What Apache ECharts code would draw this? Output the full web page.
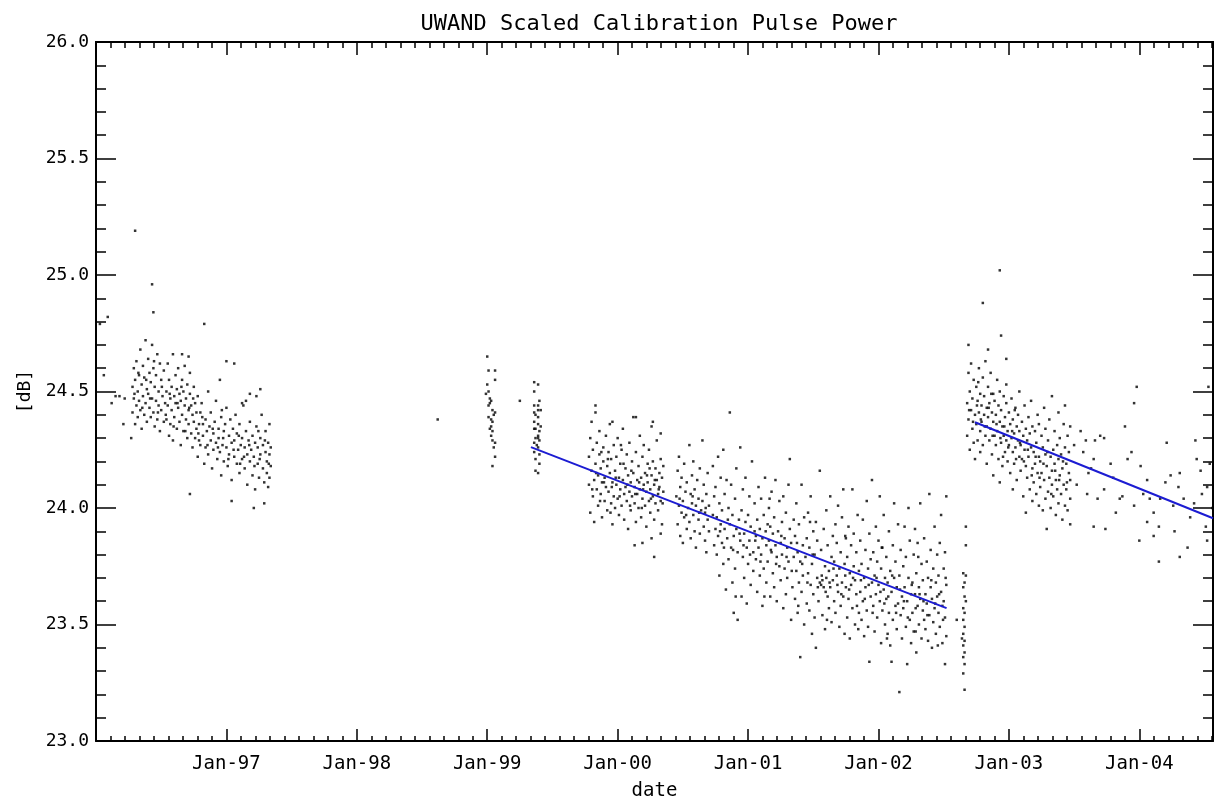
<!DOCTYPE html>
<html>
<head>
<meta charset="utf-8">
<title>UWAND Scaled Calibration Pulse Power</title>
<script src="https://cdn.jsdelivr.net/npm/echarts@6/dist/echarts.min.js"></script>
<style>
  html, body { margin: 0; padding: 0; background: #fff; }
  #chart { width: 1220px; height: 803px; }
</style>
</head>
<body>
<div id="chart"></div>
<script>
// x = year - 1900 (decimal), y = dB

// tick labels on the date axis
const yearTicks = [97, 98, 99, 100, 101, 102, 103, 104]
const yearLabels = ['Jan-97', 'Jan-98', 'Jan-99', 'Jan-00', 'Jan-01', 'Jan-02', 'Jan-03', 'Jan-04']

// 1996 - early 1997
const pts1996 = [
  [96.03,24.79],[96.09,24.82],[96.06,24.57],[96.12,24.45],[96.15,24.48],[96.18,24.48],[96.22,24.47],[96.21,24.36],[96.27,24.30],
  [96.30,25.19],[96.43,24.96],[96.44,24.84],[96.83,24.79],[96.72,24.06],[97.04,24.03],[97.21,24.00],[97.29,24.02],
  [97.00,24.63],[97.06,24.62],[96.66,24.66],[96.71,24.65],[96.95,24.55],[97.18,24.49],[97.23,24.48],[97.26,24.51],[97.12,24.45],[97.15,24.46],
  [96.28,24.52],[96.28,24.41],[96.29,24.60],[96.29,24.47],[96.30,24.36],[96.30,24.55],[96.31,24.44],[96.31,24.63],[96.32,24.50],[96.32,24.39],
  [96.33,24.57],[96.33,24.46],[96.34,24.68],[96.34,24.42],[96.35,24.53],[96.35,24.34],[96.36,24.61],[96.36,24.48],[96.37,24.40],[96.37,24.56],
  [96.38,24.72],[96.38,24.45],[96.39,24.51],[96.39,24.37],[96.40,24.64],[96.40,24.49],[96.41,24.43],[96.41,24.58],[96.42,24.54],[96.42,24.39],
  [96.43,24.47],[96.43,24.70],[96.44,24.60],[96.44,24.41],[96.45,24.52],[96.45,24.35],[96.46,24.57],[96.46,24.46],[96.47,24.66],[96.47,24.38],
  [96.48,24.50],[96.48,24.44],[96.49,24.62],[96.49,24.33],[96.50,24.55],[96.50,24.42],[96.51,24.48],[96.52,24.59],[96.52,24.37],[96.53,24.45],
  [96.54,24.50],[96.54,24.38],[96.55,24.62],[96.55,24.44],[96.56,24.31],[96.56,24.55],[96.57,24.47],[96.57,24.36],[96.58,24.52],[96.58,24.42],
  [96.59,24.66],[96.59,24.29],[96.60,24.48],[96.60,24.39],[96.61,24.57],[96.61,24.45],[96.62,24.34],[96.62,24.51],[96.63,24.43],[96.63,24.60],
  [96.64,24.37],[96.64,24.49],[96.65,24.27],[96.65,24.46],[96.66,24.55],[96.66,24.40],[96.67,24.33],[96.67,24.50],[96.68,24.44],[96.68,24.61],
  [96.69,24.38],[96.69,24.47],[96.70,24.30],[96.70,24.53],[96.71,24.42],[96.71,24.36],[96.72,24.49],[96.72,24.58],[96.73,24.32],[96.73,24.44],
  [96.74,24.40],[96.74,24.26],[96.75,24.52],[96.75,24.37],[96.76,24.45],[96.77,24.34],[96.78,24.48],[96.79,24.29],[96.80,24.41],[96.82,24.36],
  [96.76,24.30],[96.77,24.41],[96.78,24.22],[96.79,24.36],[96.80,24.27],[96.81,24.45],[96.82,24.31],[96.83,24.19],[96.84,24.38],[96.84,24.26],
  [96.85,24.33],[96.86,24.50],[96.86,24.23],[96.87,24.35],[96.88,24.29],[96.88,24.41],[96.89,24.17],[96.90,24.32],[96.90,24.25],[96.91,24.37],
  [96.92,24.28],[96.92,24.46],[96.93,24.21],[96.94,24.34],[96.94,24.30],[96.95,24.24],[96.96,24.39],[96.96,24.14],[96.97,24.27],[96.98,24.33],
  [96.98,24.20],[96.99,24.36],[97.00,24.26],[97.00,24.43],[97.01,24.18],[97.02,24.31],[97.02,24.23],[97.03,24.38],[97.04,24.28],[97.04,24.12],
  [97.05,24.34],[97.06,24.22],[97.06,24.29],[97.07,24.40],[97.08,24.19],[97.08,24.32],[97.09,24.25],[97.10,24.15],[97.10,24.36],[97.11,24.27],
  [97.12,24.21],[97.12,24.30],[97.13,24.44],[97.14,24.17],[97.14,24.26],[97.15,24.33],[97.16,24.23],[97.16,24.10],[97.17,24.29],[97.18,24.20],
  [97.18,24.37],[97.19,24.25],[97.20,24.14],[97.20,24.31],[97.21,24.22],[97.22,24.28],[97.22,24.08],[97.23,24.35],[97.24,24.19],[97.24,24.26],
  [97.25,24.13],[97.26,24.30],[97.26,24.23],[97.27,24.40],[97.28,24.17],[97.28,24.27],[97.29,24.11],[97.30,24.24],[97.30,24.33],[97.31,24.20],
  [97.31,24.15],[97.32,24.28],[97.32,24.09],[97.33,24.23],[97.33,24.36],[97.34,24.18],[97.34,24.26],[97.33,24.13],
  [96.295,24.49],[96.325,24.58],[96.355,24.43],[96.385,24.55],[96.415,24.47],[96.445,24.63],[96.475,24.41],[96.505,24.52],[96.535,24.40],[96.565,24.49],
  [96.595,24.35],[96.625,24.45],[96.655,24.52],[96.685,24.33],[96.715,24.43],[96.745,24.47],[96.785,24.32],[96.815,24.39],[96.855,24.27],[96.895,24.34],
  [96.935,24.26],[96.975,24.30],[97.015,24.21],[97.055,24.25],[97.095,24.31],[97.135,24.22],[97.175,24.27],[97.215,24.18],[97.255,24.21],[97.295,24.29],
  [97.325,24.19],[97.245,24.33],[97.105,24.19],[96.965,24.42]
]

// 1998 - mid 1999
const pts1999 = [
  [98.62,24.38],
  [99.00,24.65],[99.01,24.59],[99.06,24.59],[99.06,24.55],[99.00,24.53],[99.01,24.50],[99.03,24.46],[99.02,24.45],[99.01,24.44],[99.04,24.42],
  [99.06,24.41],[99.01,24.39],[99.04,24.37],[99.03,24.35],[99.02,24.34],[99.04,24.33],[99.03,24.31],[99.04,24.29],[99.06,24.28],[99.05,24.26],
  [99.06,24.22],[99.04,24.18],[99.02,24.47],[99.05,24.40],[99.03,24.38],[98.99,24.49],
  [99.25,24.46],
  [99.36,24.54],[99.39,24.53],[99.36,24.50],[99.40,24.46],[99.39,24.44],[99.36,24.44],[99.41,24.42],[99.37,24.40],[99.39,24.39],[99.36,24.37],
  [99.39,24.36],[99.37,24.34],[99.36,24.34],[99.40,24.33],[99.39,24.31],[99.37,24.30],[99.40,24.29],[99.36,24.28],[99.39,24.26],[99.36,24.24],
  [99.40,24.23],[99.37,24.21],[99.40,24.19],[99.37,24.16],[99.39,24.15],[99.39,24.42],[99.36,24.41],[99.39,24.30],[99.38,24.27],[99.41,24.35]
]

// late 1999 - mid 2000
const pts2000 = [
  [99.78,24.22],[99.78,24.10],[99.79,24.30],[99.79,23.98],[99.80,24.16],[99.80,24.37],[99.81,24.05],[99.81,24.25],[99.82,24.12],[99.82,23.94],
  [99.83,24.19],[99.83,24.41],[99.84,24.08],[99.84,24.28],[99.85,24.14],[99.85,24.01],[99.86,24.23],[99.86,24.33],[99.87,24.06],[99.87,24.17],
  [99.88,24.11],[99.88,23.96],[99.89,24.26],[99.89,24.20],[99.90,24.03],[99.90,24.13],[99.91,24.31],[99.91,24.09],[99.92,24.18],[99.92,23.99],
  [99.93,24.24],[99.93,24.07],[99.94,24.15],[99.94,24.36],[99.95,24.02],[99.95,24.21],[99.96,24.11],[99.96,23.93],[99.97,24.27],[99.97,24.05],
  [99.98,24.16],[99.98,24.00],[99.99,24.22],[99.99,24.10],[100.00,24.30],[100.00,24.04],[100.01,24.13],[100.01,23.97],[100.02,24.19],[100.02,24.08],
  [100.03,24.25],[100.03,24.01],[100.04,24.12],[100.04,24.34],[100.05,24.06],[100.05,23.95],[100.06,24.17],[100.06,24.09],[100.07,24.23],[100.07,24.03],
  [100.08,24.14],[100.08,23.91],[100.09,24.07],[100.09,24.28],[100.10,24.11],[100.10,23.99],[100.11,24.20],[100.11,24.05],[100.12,24.15],[100.12,24.39],
  [100.13,24.02],[100.13,24.09],[100.14,24.24],[100.14,23.94],[100.15,24.12],[100.15,24.06],[100.16,24.18],[100.16,24.00],[100.17,24.31],[100.17,24.08],
  [100.18,24.13],[100.18,23.96],[100.19,24.22],[100.19,24.04],[100.20,24.10],[100.20,24.27],[100.21,24.01],[100.21,24.15],[100.22,24.07],[100.22,23.92],
  [100.23,24.19],[100.23,24.11],[100.24,24.03],[100.24,24.25],[100.25,24.08],[100.25,23.98],[100.26,24.14],[100.26,24.35],[100.27,24.05],[100.27,24.20],
  [100.28,24.10],[100.28,23.95],[100.29,24.17],[100.29,24.02],[100.30,24.12],[100.30,24.29],[100.31,24.06],[100.31,23.99],[100.32,24.15],[100.32,24.09],
  [100.33,24.21],[100.33,24.03],[100.34,24.13],[100.34,23.93],[100.35,24.18],[100.35,24.07],
  [99.83,24.44],[99.96,24.37],[100.14,24.39],[100.27,24.37],[100.33,24.32],
  [100.13,23.84],[100.19,23.85],[100.26,23.87],[100.28,23.79],[100.33,23.89],
  [99.805,24.08],[99.835,24.15],[99.865,24.03],[99.895,24.11],[99.925,24.21],[99.955,24.09],[99.985,24.13],[100.015,24.05],[100.045,24.19],[100.075,24.10],
  [100.105,24.16],[100.135,24.06],[100.165,24.11],[100.195,24.08],[100.225,24.14],[100.255,24.04],[100.285,24.12],[100.315,24.08],[100.345,24.02],[99.875,24.24],
  [100.025,24.27],[100.185,24.00],[99.945,23.98],[100.245,24.17],[100.095,24.01]
]

// mid 2000 - mid 2002
const pts2001 = [
  [100.45,24.05],[100.46,23.93],[100.46,24.16],[100.47,24.01],[100.47,24.22],[100.48,23.88],[100.48,24.09],[100.49,23.98],[100.49,24.13],[100.50,24.03],
  [100.50,23.85],[100.51,24.19],[100.51,23.96],[100.52,24.07],[100.53,23.91],[100.53,24.11],[100.54,24.00],[100.55,24.27],
  [100.55,23.94],[100.56,24.06],[100.56,23.87],[100.57,24.14],[100.57,24.02],[100.58,23.97],[100.58,24.20],[100.59,23.90],[100.59,24.08],[100.60,24.01],
  [100.60,23.83],[100.61,24.12],[100.62,23.95],[100.62,24.04],[100.63,23.89],[100.63,24.17],[100.64,23.99],[100.65,24.29],
  [100.65,24.03],[100.66,23.92],[100.66,24.10],[100.67,23.86],[100.67,23.98],[100.68,24.06],[100.68,23.81],[100.69,23.95],[100.69,24.15],[100.70,23.90],
  [100.70,24.01],[100.73,23.97],[100.73,24.18],[100.74,23.84],[100.74,24.05],[100.75,23.91],
  [100.75,24.09],[100.76,23.80],[100.76,23.96],[100.77,24.22],[100.77,23.88],[100.78,24.02],[100.78,23.71],[100.79,23.93],[100.79,24.13],[100.80,23.85],
  [100.80,23.99],[100.81,24.25],[100.81,23.76],[100.82,23.91],[100.82,24.06],[100.83,23.65],[100.84,23.87],[100.85,24.00],
  [100.85,23.78],[100.86,24.41],[100.86,23.93],[100.87,23.83],[100.87,24.10],[100.88,23.68],[100.88,23.97],[100.89,23.55],[100.89,23.88],[100.90,24.04],
  [100.90,23.74],[100.91,23.91],[100.91,24.17],[100.92,23.81],[100.92,23.52],[100.93,23.95],[100.94,24.26],[100.94,23.86],[100.95,23.62],
  [100.95,23.99],[100.96,23.79],[100.96,24.08],[100.97,23.89],[100.97,23.70],[100.98,23.94],[100.98,24.13],[100.99,23.83],[100.99,23.59],[101.00,23.97],
  [101.00,23.76],[101.01,24.05],[101.01,23.86],[101.02,23.67],[101.02,23.92],[101.03,24.20],[101.04,23.81],[101.04,23.73],[101.05,23.90],
  [101.05,24.02],[101.06,23.78],[101.06,23.88],[101.07,23.64],[101.07,23.95],[101.08,24.09],[101.08,23.83],[101.09,23.71],[101.09,23.91],[101.10,23.80],
  [101.10,24.04],[101.11,23.58],[101.11,23.87],[101.12,23.97],[101.12,23.74],[101.13,24.13],[101.14,23.84],[101.14,23.68],[101.15,23.93],
  [101.15,23.77],[101.16,24.00],[101.16,23.86],[101.17,23.62],[101.17,23.92],[101.18,23.81],[101.18,24.07],[101.19,23.72],[101.19,23.89],[101.20,23.96],
  [101.20,23.66],[101.21,23.84],[101.21,24.12],[101.22,23.79],[101.22,23.60],[101.23,23.90],[101.24,23.75],[101.24,24.03],[101.25,23.85],
  [101.25,23.69],[101.26,23.94],[101.26,23.80],[101.27,23.57],[101.27,24.05],[101.28,23.74],[101.28,23.87],[101.29,23.63],[101.29,23.98],[101.30,23.83],
  [101.30,23.70],[101.31,24.10],[101.31,23.77],[101.32,23.91],[101.32,24.21],[101.33,23.52],[101.33,23.85],[101.34,23.66],[101.35,23.95],[101.35,23.79],
  [101.36,23.61],[101.36,23.88],[101.37,23.73],[101.37,24.02],[101.38,23.81],[101.38,23.55],[101.39,23.93],[101.39,23.68],[101.40,23.36],[101.40,23.77],
  [101.41,24.10],[101.41,23.64],[101.42,23.84],[101.42,23.71],[101.43,23.50],[101.43,23.96],[101.44,23.79],[101.45,23.59],[101.45,23.87],
  [101.46,23.72],[101.46,23.98],[101.47,23.56],[101.47,23.83],[101.48,23.67],[101.48,24.05],[101.49,23.76],[101.49,23.46],[101.50,23.90],[101.50,23.63],
  [101.51,23.80],[101.51,23.53],[101.52,23.40],[101.52,23.94],[101.53,23.70],[101.53,23.86],[101.54,23.60],[101.55,24.16],[101.55,23.68],
  [101.56,23.67],[101.56,23.82],[101.57,23.69],[101.57,23.54],[101.58,23.91],[101.58,23.66],[101.59,23.75],[101.59,23.48],[101.60,23.70],[101.60,23.99],
  [101.61,23.62],[101.61,23.84],[101.62,23.57],[101.62,23.73],[101.63,24.05],[101.63,23.66],[101.64,23.79],[101.64,23.51],[101.65,23.88],[101.65,23.69],
  [101.66,23.60],[101.66,23.77],[101.67,23.93],[101.67,23.55],[101.68,23.71],[101.68,23.85],[101.69,23.64],[101.69,24.01],[101.70,23.49],[101.70,23.74],
  [101.71,23.81],[101.71,23.58],[101.72,23.68],[101.72,23.96],[101.73,24.08],[101.73,23.62],[101.74,23.76],[101.74,23.46],[101.75,23.87],
  [101.75,23.66],[101.76,23.53],[101.76,23.79],[101.77,23.92],[101.77,23.61],[101.78,23.72],[101.78,23.44],[101.79,23.84],[101.79,23.67],[101.80,24.08],
  [101.80,23.57],[101.81,23.75],[101.81,23.89],[101.82,23.50],[101.82,23.69],[101.83,23.81],[101.83,23.63],[101.84,23.97],[101.85,23.55],[101.85,23.73],
  [101.86,23.64],[101.86,23.86],[101.87,23.52],[101.87,23.76],[101.88,23.95],[101.88,23.60],[101.89,23.70],[101.89,23.45],[101.90,23.82],[101.90,23.66],
  [101.91,24.03],[101.91,23.56],[101.92,23.74],[101.92,23.49],[101.93,23.34],[101.93,23.89],[101.94,23.62],[101.94,23.78],[101.95,24.12],[101.95,23.68],
  [101.96,23.58],[101.96,23.81],[101.97,23.71],[101.97,23.47],[101.98,23.92],[101.98,23.63],[101.99,23.77],[101.99,23.53],[102.00,23.67],[102.00,23.86],
  [102.01,24.05],[102.01,23.60],[102.02,23.42],[102.02,23.74],[102.03,23.56],[102.03,23.83],[102.04,23.65],[102.04,23.97],[102.05,23.50],[102.05,23.70],
  [102.06,23.61],[102.06,23.79],[102.07,23.46],[102.07,23.68],[102.08,23.90],[102.08,23.55],[102.09,23.73],[102.09,23.41],[102.10,23.34],[102.10,23.64],
  [102.11,23.84],[102.11,23.52],[102.12,23.70],[102.12,24.02],[102.13,23.58],[102.13,23.77],[102.14,23.48],[102.14,23.66],[102.15,23.93],[102.15,23.59],
  [102.16,23.21],[102.16,23.71],[102.17,23.54],[102.17,23.82],[102.18,23.62],[102.18,23.44],[102.19,23.75],[102.19,23.57],[102.20,23.92],[102.20,23.66],
  [102.21,23.49],[102.21,23.79],[102.22,23.33],[102.22,23.60],[102.23,23.70],[102.23,24.00],[102.24,23.52],[102.24,23.86],[102.25,23.63],[102.25,23.42],
  [102.26,23.68],[102.26,23.55],[102.27,23.80],[102.27,23.47],[102.28,23.63],[102.28,23.91],[102.29,23.38],[102.29,23.72],[102.30,23.58],[102.30,23.85],
  [102.31,23.50],[102.31,23.66],[102.32,24.02],[102.32,23.61],[102.33,23.44],[102.33,23.76],[102.34,23.56],[102.34,23.69],[102.35,23.87],[102.35,23.52],
  [102.36,23.63],[102.36,23.48],[102.37,23.77],[102.37,23.59],[102.38,23.43],[102.38,23.70],[102.39,24.06],[102.39,23.54],[102.40,23.66],[102.40,23.82],
  [102.41,23.40],[102.41,23.61],[102.42,23.74],[102.42,23.51],[102.43,23.92],[102.43,23.57],[102.44,23.68],[102.44,23.46],[102.45,23.80],[102.45,23.62],
  [102.46,23.55],[102.46,23.71],[102.47,23.85],[102.47,23.49],[102.48,23.64],[102.48,23.97],[102.49,23.58],[102.49,23.42],[102.50,23.74],[102.50,23.60],
  [102.51,23.33],[102.51,23.81],[102.51,23.53],[102.52,23.67],[102.52,24.05],[102.52,23.45],
  [100.475,24.04],[100.525,23.97],[100.575,24.05],[100.625,23.98],[100.675,24.00],[100.785,23.90],[100.815,23.83],[100.845,23.95],[100.885,23.82],[100.935,23.89],
  [100.965,23.84],[101.015,23.80],[101.055,23.86],[101.095,23.77],[101.135,23.90],[101.175,23.82],[101.215,23.76],[101.255,23.88],[101.295,23.79],[101.335,23.73],
  [101.375,23.85],[101.415,23.76],[101.455,23.68],[101.495,23.80],[101.535,23.66],[101.565,23.71],[101.595,23.64],[101.625,23.68],[101.655,23.74],[101.685,23.67],
  [101.715,23.63],[101.745,23.71],[101.775,23.65],[101.805,23.70],[101.835,23.58],[101.865,23.69],[101.895,23.61],[101.925,23.67],[101.955,23.55],[101.985,23.70],
  [102.015,23.64],[102.045,23.59],[102.075,23.62],[102.105,23.71],[102.135,23.55],[102.165,23.65],[102.195,23.60],[102.225,23.53],[102.255,23.67],[102.285,23.57],
  [102.315,23.63],[102.345,23.60],[102.375,23.54],[102.405,23.69],[102.435,23.59],[102.465,23.63],[102.495,23.52],[102.515,23.70],
  [100.905,23.62],[101.125,23.62],[101.385,23.58],[101.605,23.52],[101.845,23.48],[102.065,23.44],[102.285,23.47],[102.455,23.41],
  [100.835,24.12],[101.165,24.04],[101.475,23.94],[101.745,23.88],[102.025,23.83],[102.305,23.79]
]

// short column just before the second segment
const ptsGap = [
  [102.65,23.72],[102.66,23.68],[102.65,23.66],[102.66,23.62],[102.65,23.57],[102.66,23.55],[102.65,23.52],[102.66,23.49],[102.65,23.46],[102.66,23.43],
  [102.65,23.41],[102.66,23.38],[102.65,23.36],[102.66,23.33],[102.65,23.29],[102.66,23.22],[102.67,23.71],[102.67,23.60],[102.67,23.92],[102.64,23.44],
  [102.67,23.84],[102.60,23.52]
]

// late 2002 - mid 2003
const pts2003 = [
  [102.93,25.02],[102.80,24.88],[102.94,24.74],[102.84,24.68],[102.69,24.70],[102.98,24.64],
  [102.68,24.45],[102.68,24.31],[102.69,24.58],[102.69,24.38],[102.70,24.25],[102.70,24.50],[102.71,24.42],[102.71,24.62],[102.72,24.34],[102.72,24.47],
  [102.73,24.28],[102.73,24.55],[102.74,24.40],[102.74,24.21],[102.75,24.52],[102.75,24.36],[102.76,24.46],[102.76,24.29],[102.77,24.60],[102.77,24.41],
  [102.78,24.33],[102.78,24.49],[102.78,24.24],[102.79,24.44],[102.79,24.37],[102.80,24.56],[102.80,24.27],[102.81,24.40],[102.81,24.48],[102.82,24.31],
  [102.82,24.63],[102.83,24.35],[102.83,24.43],[102.83,24.19],[102.84,24.39],[102.84,24.52],[102.85,24.29],[102.85,24.45],[102.86,24.34],[102.86,24.58],
  [102.87,24.23],[102.87,24.41],[102.88,24.37],[102.88,24.49],[102.88,24.14],[102.89,24.31],[102.89,24.46],[102.90,24.27],[102.90,24.40],[102.91,24.55],
  [102.91,24.33],[102.92,24.21],[102.92,24.44],[102.93,24.37],[102.93,24.50],[102.93,24.11],[102.94,24.28],[102.94,24.42],[102.95,24.35],[102.95,24.18],
  [102.96,24.48],[102.96,24.31],[102.97,24.39],[102.97,24.24],[102.98,24.45],[102.98,24.29],[102.98,24.53],[102.99,24.33],[102.99,24.20],[103.00,24.41],
  [103.00,24.27],[103.01,24.36],[103.01,24.15],[103.02,24.47],[103.02,24.30],[103.03,24.24],[103.03,24.38],[103.03,24.08],[103.04,24.32],[103.04,24.19],
  [103.05,24.43],[103.05,24.26],[103.06,24.35],[103.06,24.12],[103.07,24.29],[103.07,24.40],[103.08,24.22],[103.08,24.50],[103.08,24.33],[103.09,24.27],
  [103.09,24.16],[103.10,24.37],[103.10,24.21],[103.11,24.31],[103.11,24.05],[103.12,24.44],[103.12,24.25],[103.13,24.18],[103.13,24.34],[103.13,23.98],
  [103.14,24.29],[103.14,24.13],[103.15,24.39],[103.15,24.22],[103.16,24.08],[103.16,24.32],[103.17,24.26],[103.17,24.46],[103.18,24.17],[103.18,24.03],
  [103.18,24.35],[103.19,24.24],[103.19,24.11],[103.20,24.33],[103.20,24.19],[103.21,24.06],[103.21,24.28],[103.22,24.40],[103.22,24.15],[103.23,24.22],
  [103.23,24.01],[103.23,24.36],[103.24,24.20],[103.24,24.09],[103.25,24.31],[103.25,24.15],[103.26,23.99],[103.26,24.26],[103.27,24.43],[103.27,24.12],
  [103.28,24.23],[103.28,24.04],[103.28,24.34],[103.29,24.18],[103.29,23.91],[103.30,24.29],[103.30,24.07],[103.31,24.13],[103.31,24.38],[103.32,24.22],
  [103.32,24.00],[103.33,24.16],[103.33,24.48],[103.33,24.10],[103.34,24.25],[103.34,24.05],[103.35,24.19],[103.35,24.33],[103.36,24.12],[103.36,23.97],
  [103.37,24.27],[103.37,24.08],[103.38,24.21],[103.38,24.41],[103.38,24.02],[103.39,24.14],[103.39,24.30],[103.40,24.06],[103.40,24.23],[103.41,23.95],
  [103.41,24.17],[103.42,24.36],[103.42,24.10],[103.43,24.26],[103.43,24.01],[103.43,24.44],[103.44,24.19],[103.44,24.08],[103.45,24.31],[103.45,23.99],
  [103.46,24.15],[103.46,24.24],[103.47,24.04],[103.47,24.35],[103.47,24.12],[103.47,23.93],
  [102.695,24.42],[102.725,24.37],[102.755,24.44],[102.785,24.38],[102.815,24.35],[102.845,24.43],[102.875,24.31],[102.905,24.36],[102.935,24.30],[102.965,24.35],
  [102.995,24.26],[103.025,24.33],[103.055,24.21],[103.085,24.28],[103.115,24.20],[103.145,24.25],[103.175,24.14],[103.205,24.22],[103.235,24.13],[103.265,24.19],
  [103.295,24.24],[103.325,24.06],[103.355,24.16],[103.385,24.12],[103.415,24.20],[103.445,24.11],[102.765,24.54],[102.865,24.49],[102.955,24.22],[103.045,24.42]
]

// mid 2003 - 2004, sparse
const pts2004 = [
  [103.50,24.27],[103.52,24.10],[103.55,24.33],[103.57,24.24],[103.59,24.29],[103.61,24.15],[103.60,24.06],[103.65,24.21],[103.66,24.29],[103.68,24.04],
  [103.65,23.92],[103.70,24.31],[103.73,24.30],[103.73,24.08],[103.74,23.91],[103.80,24.13],[103.82,23.98],[103.85,24.04],[103.87,24.05],[103.89,24.35],
  [103.91,24.21],[103.94,24.24],[103.96,24.45],[103.96,24.01],[103.98,24.52],[104.01,24.18],[104.03,24.06],[104.06,24.12],[104.06,23.94],[104.08,24.04],
  [104.11,23.98],[104.11,23.88],[104.15,23.92],[104.15,23.77],[104.16,24.04],[104.21,24.28],[104.24,24.14],[104.26,24.01],[104.30,24.09],[104.31,24.15],
  [104.31,23.79],[104.34,24.04],[104.37,23.83],[104.39,23.96],[104.43,24.29],[104.44,24.21],[104.47,24.16],[104.51,23.92],[104.52,24.09],[104.52,23.86],
  [104.53,24.52],[104.54,24.19],[103.78,24.19],[104.20,24.11],[104.42,24.02],[103.63,24.17],[104.00,23.86],[104.27,23.90],[104.48,24.06],[104.56,24.00]
]

// fitted trend lines (end points)
const fitFirst = [[99.335, 24.261], [102.522, 23.570]]
const fitSecond = [[102.74, 24.368], [104.565, 23.956]]

const X_MIN = 96
const X_MAX = 104.565
const FONT = 'DejaVu Sans Mono'

// minor date ticks: nine steps per year
const minorYearTicks = []
for (let k = 1; 96 + k / 9 <= X_MAX; k++) {
  if (k % 9 !== 0) minorYearTicks.push(96 + k / 9)
}

const axisLine = { show: true, onZero: false, lineStyle: { color: '#000', width: 2 } }
const tickStyle = { color: '#000', width: 1.5 }

// build one date axis (major or minor ticks, bottom or top)
const makeXAxis = (position, values, length, withLabels) => ({
  type: 'value',
  position,
  min: X_MIN,
  max: X_MAX,
  splitLine: { show: false },
  axisLine: withLabels || position === 'top' ? axisLine : { show: false },
  axisTick: { show: true, inside: true, length, customValues: values, lineStyle: tickStyle },
  axisLabel: withLabels
    ? {
        show: true,
        customValues: yearTicks,
        margin: 14,
        color: '#000',
        fontFamily: FONT,
        fontSize: 19,
        formatter: v => yearLabels[yearTicks.indexOf(v)] || ''
      }
    : { show: false },
  name: withLabels ? 'date' : '',
  nameLocation: 'middle',
  nameGap: 41,
  nameTextStyle: { color: '#000', fontFamily: FONT, fontSize: 19 }
})

const makeYAxis = (position, withLabels) => ({
  type: 'value',
  position,
  min: 23,
  max: 26,
  interval: 0.5,
  splitLine: { show: false },
  axisLine,
  axisTick: { show: true, inside: true, length: 20, lineStyle: tickStyle },
  minorTick: { show: true, splitNumber: 5, length: 10, lineStyle: tickStyle },
  minorSplitLine: { show: false },
  axisLabel: withLabels
    ? { show: true, margin: 7, color: '#000', fontFamily: FONT, fontSize: 18, formatter: v => v.toFixed(1),
        showMinLabel: true, showMaxLabel: true }
    : { show: false },
  name: withLabels ? '[dB]' : '',
  nameLocation: 'middle',
  nameGap: 62,
  nameTextStyle: { color: '#000', fontFamily: FONT, fontSize: 18 }
})

const allPoints = [].concat(pts1996, pts1999, pts2000, pts2001, ptsGap, pts2003, pts2004)

const chart = echarts.init(document.getElementById('chart'), null, { renderer: 'canvas' })

chart.setOption({
  animation: false,
  backgroundColor: '#fff',
  title: {
    text: 'UWAND Scaled Calibration Pulse Power',
    left: 654,
    top: 8,
    textAlign: 'center',
    textStyle: { color: '#000', fontFamily: FONT, fontSize: 22, fontWeight: 'normal' }
  },
  grid: { left: 96, right: 7, top: 42, bottom: 62, outerBoundsMode: 'none' },
  xAxis: [
    makeXAxis('bottom', yearTicks, 12, true),
    makeXAxis('bottom', minorYearTicks, 5, false),
    makeXAxis('top', yearTicks, 13, false),
    makeXAxis('top', minorYearTicks, 6, false)
  ],
  yAxis: [makeYAxis('left', true), makeYAxis('right', false)],
  series: [
    {
      name: 'pulse power',
      type: 'scatter',
      xAxisIndex: 0,
      yAxisIndex: 0,
      symbol: 'rect',
      symbolSize: 2.5,
      itemStyle: { color: '#000' },
      data: allPoints,
      silent: true
    },
    {
      name: 'fit 1',
      type: 'line',
      xAxisIndex: 0,
      yAxisIndex: 0,
      symbol: 'none',
      lineStyle: { color: '#1c1cd2', width: 2 },
      data: fitFirst,
      z: 5
    },
    {
      name: 'fit 2',
      type: 'line',
      xAxisIndex: 0,
      yAxisIndex: 0,
      symbol: 'none',
      lineStyle: { color: '#1c1cd2', width: 2 },
      data: fitSecond,
      z: 5
    }
  ]
})
</script>
</body>
</html>
